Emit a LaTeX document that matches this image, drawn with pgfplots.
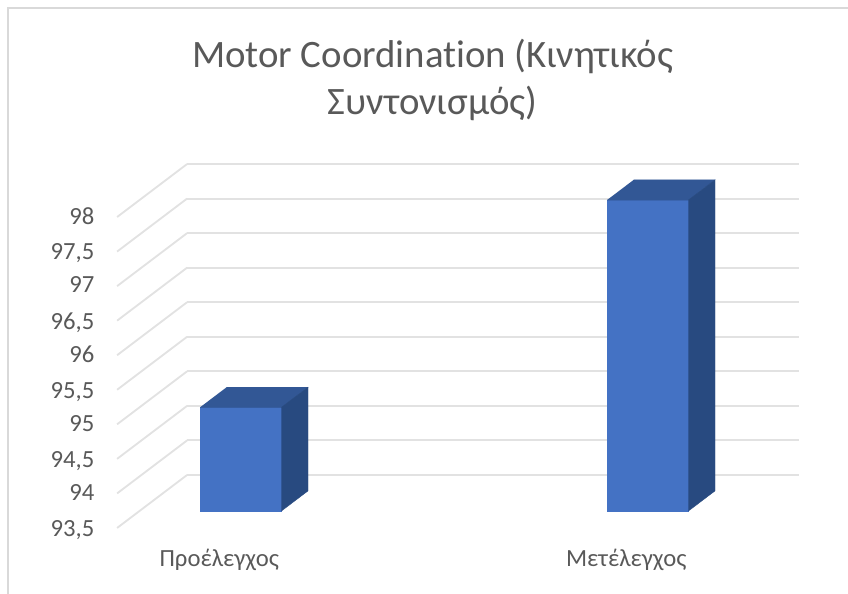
\documentclass[border=0pt]{standalone}
\usepackage{pgfplots}
\pgfplotsset{compat=1.18}
\usepackage{fontspec}
\setmainfont{Carlito}[Ligatures=NoCommon]
\definecolor{barfront}{HTML}{4472C4}
\definecolor{bartop}{HTML}{325795}
\definecolor{barside}{HTML}{284A80}
\definecolor{wallgrid}{HTML}{E2E2E2}
\definecolor{labeltext}{HTML}{595959}
\definecolor{chartframe}{HTML}{D9D9D9}
\begin{document}
\begin{tikzpicture}
\begin{axis}[
  x={(305.25pt,0pt)},
  y={(52.5pt,39.75pt)},
  z={(0pt,51.825pt)},
  xmin=0.7513, xmax=2.2548,
  ymin=0, ymax=1,
  zmin=93.5, zmax=98,
  clip=false,
  axis line style={draw=none},
  major tick style={draw=none},
  xtick={1,2},
  xticklabels={Προέλεγχος,Μετέλεγχος},
  ytick=\empty,
  ztick={93.5,94,94.5,95,95.5,96,96.5,97,97.5,98},
  xtick pos=lower,
  ztick pos=left,
  zmajorgrids=true,
  xmajorgrids=false,
  grid style={wallgrid,line width=1.4pt},
  /pgf/number format/assume math mode=true,
  /pgf/number format/use comma,
  /pgf/number format/fixed,
  /pgf/number format/precision=1,
  tick label style={font=\fontsize{18.5pt}{20pt}\selectfont,text=labeltext},
  xticklabel style={xshift=6.5pt,yshift=-12.5pt},
  zticklabel style={xshift=-13.5pt,yshift=5.2pt},
]
% first bar, value 95: front, top and side faces
\addplot3[fill=barfront,draw=barfront,line width=0.3pt] coordinates {(0.9,0.32,93.5) (1.1,0.32,93.5) (1.1,0.32,95) (0.9,0.32,95)};
\addplot3[fill=bartop,draw=bartop,line width=0.3pt] coordinates {(0.9,0.32,95) (1.1,0.32,95) (1.1,0.70,95) (0.9,0.70,95)};
\addplot3[fill=barside,draw=barside,line width=0.3pt] coordinates {(1.1,0.32,93.5) (1.1,0.70,93.5) (1.1,0.70,95) (1.1,0.32,95)};
% second bar, value 98
\addplot3[fill=barfront,draw=barfront,line width=0.3pt] coordinates {(1.9,0.32,93.5) (2.1,0.32,93.5) (2.1,0.32,98) (1.9,0.32,98)};
\addplot3[fill=bartop,draw=bartop,line width=0.3pt] coordinates {(1.9,0.32,98) (2.1,0.32,98) (2.1,0.70,98) (1.9,0.70,98)};
\addplot3[fill=barside,draw=barside,line width=0.3pt] coordinates {(2.1,0.32,93.5) (2.1,0.70,93.5) (2.1,0.70,98) (2.1,0.32,98)};
% page corners, chart frame corner and title anchor
\coordinate (tl) at (axis cs:0.4636,0,101.141);
\coordinate (br) at (axis cs:2.5472,0,92.545);
\coordinate (fr) at (axis cs:0.4833,0,101.025);
\node[align=center,font=\fontsize{29.1pt}{35.5pt}\selectfont,text=labeltext] at (axis cs:1.5265,0,99.98)
  {Motor Coordination (Κινητικός\\Συντονισμός)};
\end{axis}
\draw[chartframe,line width=1.2pt] (fr |- br) -- (fr) -- (fr -| br);
\pgfresetboundingbox
\path[use as bounding box] (tl) rectangle (br);
\end{tikzpicture}
\end{document}
